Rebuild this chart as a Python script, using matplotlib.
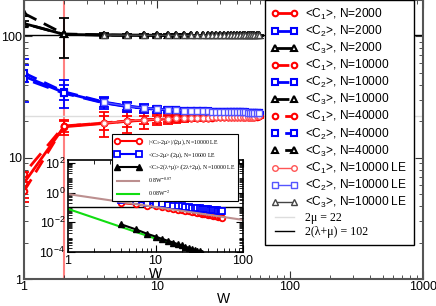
import matplotlib
matplotlib.use('Agg')
import matplotlib.pyplot as plt
from matplotlib import ticker
import numpy as np

plt.rcParams['font.family'] = ['Liberation Sans', 'DejaVu Sans']
plt.rcParams['mathtext.fontset'] = 'custom'
plt.rcParams['mathtext.rm'] = 'Liberation Sans'
plt.rcParams['mathtext.it'] = 'Liberation Sans:italic'
plt.rcParams['mathtext.bf'] = 'Liberation Sans:bold'

# ---- main panel data ----
W = [1, 2, 4, 6, 8, 10, 12, 14, 16, 18, 20, 22, 24, 26, 28, 30,
     32, 34, 36, 38, 40, 42, 44, 46, 48, 50, 52, 54, 56, 58]

c1_2000 = [6.2, 18.0, 19.2, 20.0, 20.4, 20.7, 20.9, 21.0, 21.1, 21.2, 21.3, 21.3, 21.4, 21.4, 21.5,
           21.5, 21.5, 21.6, 21.6, 21.6, 21.7, 21.7, 21.7, 21.7, 21.8, 21.8, 21.8, 21.8, 21.8, 21.9]
c2_2000 = [47.0, 34.5, 28.5, 26.5, 25.6, 25.1, 24.8, 24.6, 24.4, 24.3, 24.2, 24.1, 24.0, 24.0, 23.9,
           23.9, 23.8, 23.8, 23.8, 23.7, 23.7, 23.7, 23.7, 23.6, 23.6, 23.6, 23.6, 23.6, 23.6, 23.5]
c3_2000 = [128, 104, 103, 102.5, 102.5, 102.3, 102.2, 102.2, 102.1, 102.1, 102.1, 102.0, 102.0, 102.0, 102.0,
           102.0, 102.0, 102.0, 102.0, 102.0, 102.0, 102.0, 102.0, 102.0, 102.0, 102.0, 102.0, 102.0, 102.0, 102.0]
c1_err_2000 = [1.5, 2.5, 4.5, 4.0, 3.0, 2.2, 1.8, 1.5, 1.3, 1.2, 1.1, 1.0, 0.9, 0.9, 0.8,
               0.8, 0.7, 0.7, 0.7, 0.6, 0.6, 0.6, 0.6, 0.5, 0.5, 0.5, 0.5, 0.5, 0.5, 0.5]
c2_err_2000 = [18.0, 9.0, 3.5, 2.5, 2.0, 1.6, 1.3, 1.1, 1.0, 0.9, 0.8, 0.8, 0.7, 0.7, 0.6,
               0.6, 0.6, 0.5, 0.5, 0.5, 0.5, 0.5, 0.4, 0.4, 0.4, 0.4, 0.4, 0.4, 0.4, 0.4]
c3_err_2000 = [5.0, 38.0, 4.0, 3.0, 3.0, 2.5, 2.0, 2.0, 1.8, 1.5, 1.5, 1.4, 1.3, 1.2, 1.2,
               1.1, 1.1, 1.0, 1.0, 1.0, 1.0, 0.9, 0.9, 0.9, 0.9, 0.8, 0.8, 0.8, 0.8, 0.8]

c1_10000 = [5.3, 18.2, 19.4, 20.1, 20.5, 20.8, 21.0, 21.1, 21.2, 21.3, 21.3, 21.4, 21.4, 21.5, 21.5,
            21.5, 21.6, 21.6, 21.6, 21.7, 21.7, 21.7, 21.7, 21.8, 21.8, 21.8, 21.8, 21.8, 21.9, 21.9]
c2_10000 = [50.0, 35.0, 28.8, 26.7, 25.8, 25.2, 24.9, 24.7, 24.5, 24.4, 24.3, 24.2, 24.1, 24.0, 24.0,
            23.9, 23.9, 23.8, 23.8, 23.8, 23.7, 23.7, 23.7, 23.7, 23.6, 23.6, 23.6, 23.6, 23.6, 23.6]
c3_10000 = [155, 105, 103, 102.6, 102.4, 102.3, 102.2, 102.1, 102.1, 102.1, 102.0, 102.0, 102.0, 102.0, 102.0,
            102.0, 102.0, 102.0, 102.0, 102.0, 102.0, 102.0, 102.0, 102.0, 102.0, 102.0, 102.0, 102.0, 102.0, 102.0]
c1_err_10000 = [1.0, 2.0, 2.5, 2.0, 1.6, 1.3, 1.1, 1.0, 0.9, 0.8, 0.7, 0.7, 0.6, 0.6, 0.6,
                0.5, 0.5, 0.5, 0.5, 0.4, 0.4, 0.4, 0.4, 0.4, 0.4, 0.4, 0.3, 0.3, 0.3, 0.3]
c2_err_10000 = [8.0, 5.0, 2.5, 1.8, 1.4, 1.2, 1.0, 0.9, 0.8, 0.7, 0.6, 0.6, 0.5, 0.5, 0.5,
                0.5, 0.4, 0.4, 0.4, 0.4, 0.4, 0.4, 0.3, 0.3, 0.3, 0.3, 0.3, 0.3, 0.3, 0.3]

c1_40000 = [7.4, 18.3, 19.3, 20.1, 20.5, 20.8, 21.0, 21.1, 21.2, 21.3, 21.3, 21.4, 21.4, 21.5, 21.5,
            21.5, 21.6, 21.6, 21.6, 21.7, 21.7, 21.7, 21.7, 21.8, 21.8, 21.8, 21.8, 21.8, 21.9, 21.9]
c2_40000 = [45.0, 34.0, 28.3, 26.4, 25.6, 25.1, 24.8, 24.6, 24.4, 24.3, 24.2, 24.1, 24.0, 24.0, 23.9,
            23.9, 23.8, 23.8, 23.8, 23.7, 23.7, 23.7, 23.7, 23.6, 23.6, 23.6, 23.6, 23.6, 23.6, 23.5]
c3_40000 = [128, 104, 102.8, 102.4, 102.3, 102.2, 102.1, 102.1, 102.0, 102.0, 102.0, 102.0, 102.0, 102.0, 102.0,
            102.0, 102.0, 102.0, 102.0, 102.0, 102.0, 102.0, 102.0, 102.0, 102.0, 102.0, 102.0, 102.0, 102.0, 102.0]

W_le = [4, 6, 8, 10, 12, 14, 16, 18, 20, 22, 24, 26, 28, 30,
        32, 34, 36, 38, 40, 42, 44, 46, 48, 50, 52, 54, 56, 58]
c1_le = [19.3, 20.1, 20.5, 20.8, 21.0, 21.1, 21.2, 21.3, 21.3, 21.4, 21.4, 21.5, 21.5, 21.5,
         21.6, 21.6, 21.6, 21.7, 21.7, 21.7, 21.7, 21.8, 21.8, 21.8, 21.8, 21.8, 21.9, 21.9]
c2_le = [28.6, 26.6, 25.7, 25.2, 24.9, 24.7, 24.5, 24.4, 24.3, 24.2, 24.1, 24.0, 24.0, 23.9,
         23.9, 23.8, 23.8, 23.8, 23.7, 23.7, 23.7, 23.7, 23.6, 23.6, 23.6, 23.6, 23.6, 23.5]
c3_le = [102.8, 102.5, 102.3, 102.2, 102.1, 102.1, 102.0, 102.0, 102.0, 102.0, 102.0, 102.0, 102.0, 102.0,
         102.0, 102.0, 102.0, 102.0, 102.0, 102.0, 102.0, 102.0, 102.0, 102.0, 102.0, 102.0, 102.0, 102.0]

two_mu = 22
two_lam_mu = 102

# ---- inset data (N=10000 LE) ----
in_c1 = [0.20, 0.16, 0.135, 0.12, 0.10, 0.088, 0.078, 0.070, 0.064, 0.058, 0.054, 0.050, 0.046, 0.043,
         0.040, 0.038, 0.036, 0.034, 0.032, 0.030, 0.029, 0.027, 0.026, 0.025, 0.024, 0.023, 0.022, 0.021]
in_c2 = [0.34, 0.26, 0.20, 0.18, 0.16, 0.145, 0.135, 0.125, 0.117, 0.110, 0.104, 0.099, 0.094, 0.090,
         0.086, 0.083, 0.080, 0.077, 0.074, 0.072, 0.070, 0.068, 0.066, 0.064, 0.062, 0.060, 0.059, 0.057]
W_c3 = [4, 6, 8, 10, 12, 14, 16, 18, 20, 22, 24, 26, 28, 30, 32, 34]
in_c3 = [0.0075, 0.0033, 0.0017, 0.0011, 7.5e-4, 5.6e-4, 4.3e-4, 3.4e-4,
         2.8e-4, 2.3e-4, 1.9e-4, 1.6e-4, 1.4e-4, 1.2e-4, 1.1e-4, 9e-5]
fit_w = np.array([1.0, 100.0])

RED, BLUE, BLACK = '#ff0000', '#0000ff', '#000000'
LRED, LBLUE, LGRAY = '#ff5555', '#5555ff', '#444444'

fig = plt.figure(figsize=(4.36, 3.06), dpi=100)
ax = fig.add_axes([24 / 436, 27 / 306, 399 / 436, 279 / 306])
ax.set_xscale('log')
ax.set_yscale('log')
ax.set_xlim(1, 1000)
ax.set_ylim(1, 200)

ax.axvline(2, color='#ff8080', lw=1.5, zorder=1)
h_mu = ax.axhline(two_mu, color='#dddddd', lw=1, zorder=1)
h_lm = ax.axhline(two_lam_mu, color='black', lw=1, zorder=1)

mk = dict(ms=4, mfc='white', mew=1.5)
eb = dict(fmt='none', capsize=3.5, elinewidth=1.3, capthick=1.3)

ds10 = (0, (5, 3))
ds40 = (6, (6, 3.5))

handles = []
# N=2000
for y, err, col, m in [(c1_2000, c1_err_2000, RED, 'o'),
                       (c2_2000, c2_err_2000, BLUE, 's'),
                       (c3_2000, c3_err_2000, BLACK, '^')]:
    ax.errorbar(W, y, yerr=err, ecolor=col, **eb)
    l, = ax.plot(W, y, color=col, marker=m, lw=2, **mk)
    handles.append(l)
# N=10000
for y, err, col, m in [(c1_10000, c1_err_10000, RED, 'o'),
                       (c2_10000, c2_err_10000, BLUE, 's'),
                       (c3_10000, None, BLACK, '^')]:
    if err is not None:
        ax.errorbar(W, y, yerr=err, ecolor=col, **eb)
    l, = ax.plot(W, y, color=col, marker=m, lw=2, ls=ds10, **mk)
    handles.append(l)
# N=40000
for y, col, m in [(c1_40000, RED, 'o'), (c2_40000, BLUE, 's'), (c3_40000, BLACK, '^')]:
    l, = ax.plot(W, y, color=col, marker=m, lw=2, ls=ds40, **mk)
    handles.append(l)
# LE
for y, col, m in [(c1_le, LRED, 'o'), (c2_le, LBLUE, 's'), (c3_le, LGRAY, '^')]:
    l, = ax.plot(W_le, y, color=col, marker=m, lw=1, ms=4, mfc='white', mew=1)
    handles.append(l)
handles += [h_mu, h_lm]

labels = [r'<C$_1$>, N=2000', r'<C$_2$>, N=2000', r'<C$_3$>, N=2000',
          r'<C$_1$>, N=10000', r'<C$_2$>, N=10000', r'<C$_3$>, N=10000',
          r'<C$_1$>, N=40000', r'<C$_2$>, N=40000', r'<C$_3$>, N=40000',
          r'<C$_1$>, N=10000 LE', r'<C$_2$>, N=10000 LE', r'<C$_3$>, N=10000 LE',
          '2μ = 22', '2(λ+μ) = 102']

leg = ax.legend(handles, labels, loc='upper left', bbox_to_anchor=(265 / 436, 1.0),
                bbox_transform=fig.transFigure, fontsize=8.6, numpoints=2,
                fancybox=False, edgecolor='black', framealpha=1, borderaxespad=0,
                handlelength=2.2, handletextpad=0.6, labelspacing=0.17, borderpad=0.55)
leg.get_frame().set_linewidth(1.0)
for t in leg.get_texts()[-2:]:
    t.set_family('Liberation Serif')

fmt = ticker.FuncFormatter(lambda v, p: f'{v:g}')
ax.xaxis.set_major_formatter(fmt)
ax.yaxis.set_major_formatter(fmt)
ax.tick_params(which='both', direction='in', top=True, right=True, labelsize=9,
               color='#333333', pad=1.5)
ax.tick_params(which='major', length=6)
ax.tick_params(which='minor', length=3)
for s in ax.spines.values():
    s.set_color('#555555')
    s.set_linewidth(1.5)
ax.set_xlabel('W', fontsize=10, labelpad=-1)

# ---- inset ----
axi = fig.add_axes([68 / 436, 54 / 306, 175 / 436, 92 / 306])
axi.set_xscale('log')
axi.set_yscale('log')
axi.set_xlim(1, 100)
axi.set_ylim(10 ** -3.93, 10 ** 2.2)

axi.axhline(0.1, color='black', lw=1, zorder=1)
i1, = axi.plot(W_le, in_c1, color=RED, marker='o', lw=1.5, ms=4, mfc='white', mew=1.3)
i2, = axi.plot(W_le, in_c2, color=BLUE, marker='s', lw=1.5, ms=4, mfc='white', mew=1.3)
i4, = axi.plot(fit_w, 0.8 * fit_w ** -0.87, color='#bc8f8f', lw=1.5)
i5, = axi.plot(fit_w, 0.08 * fit_w ** -2.0, color='#11dd11', lw=1.5)
i3, = axi.plot(W_c3, in_c3, color=BLACK, marker='^', lw=1.5, ms=4.5)

axi.set_xticks([1, 10, 100])
axi.xaxis.set_major_formatter(fmt)
axi.set_yticks([1e-4, 1e-2, 1, 1e2])
axi.yaxis.set_minor_locator(ticker.LogLocator(base=10, subs=np.arange(2, 10), numticks=20))
axi.yaxis.set_minor_formatter(ticker.NullFormatter())
axi.tick_params(which='both', direction='in', top=True, right=True, labelsize=9, pad=2)
axi.tick_params(which='major', length=5)
axi.tick_params(which='minor', length=3)
for s in axi.spines.values():
    s.set_linewidth(1.2)
axi.set_xlabel('W', fontsize=10, labelpad=0)

in_labels = [r'|<C$_1$-2μ>|/(2μ), N=10000 LE',
             r'<C$_2$-2μ>/(2μ), N=10000 LE',
             r'<C$_3$-2(λ+μ)>/(2λ+2μ), N=10000 LE',
             r'0.8W$^{-0.87}$', r'0.08W$^{-2}$']
ileg = axi.legend([i1, i2, i3, i4, i5], in_labels, loc='upper left',
                  bbox_to_anchor=(112 / 436, 172 / 306), bbox_transform=fig.transFigure,
                  fontsize=4.2, numpoints=2, fancybox=False, edgecolor='black',
                  framealpha=1, borderaxespad=0, handlelength=4.5, handletextpad=1.2,
                  labelspacing=0.55, borderpad=0.5)
ileg.get_frame().set_linewidth(0.8)
for t in ileg.get_texts():
    t.set_family('Liberation Serif')
    t.set_math_fontfamily('stix')

fig.savefig('out.png', dpi=100)
